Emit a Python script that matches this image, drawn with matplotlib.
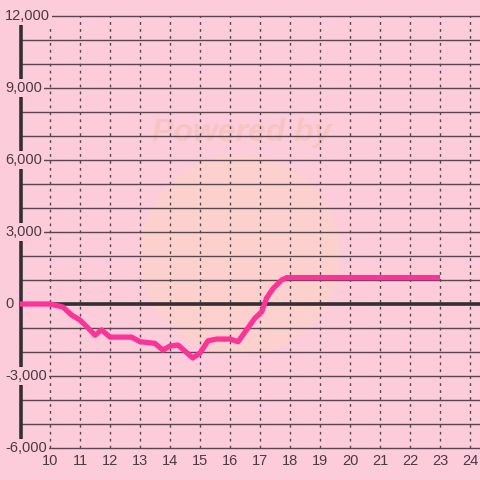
import matplotlib
matplotlib.use("Agg")
import matplotlib.pyplot as plt
from matplotlib.patches import Circle

hours = [9.0, 10.0, 10.43, 10.72, 11.0, 11.27, 11.5, 11.72, 12.0, 12.72, 13.0, 13.5, 13.76,
         14.0, 14.27, 14.76, 15.0, 15.27, 15.56, 16.0, 16.27, 16.83, 17.06, 17.22, 17.44,
         17.72, 17.89, 23.0]
values = [0, 0, -125, -460, -670, -1000, -1300, -1080, -1380, -1380, -1570, -1640, -1920,
          -1750, -1710, -2250, -2040, -1530, -1460, -1460, -1570, -590, -320, 250, 650,
          1000, 1100, 1100]
x_ticks = list(range(10, 25))
y_grid = list(range(-6000, 12001, 1000))
y_labels = [12000, 9000, 6000, 3000, 0, -3000, -6000]

BG = "#FCCCDA"
GRID = "#5A4650"
TXT = "#4A3A44"
LINE = "#FC3399"

plt.rcParams['font.family'] = ['Liberation Sans', 'DejaVu Sans']
fig = plt.figure(figsize=(4.8, 4.8), dpi=100, facecolor=BG)
ax = fig.add_axes([0, 0, 1, 1])
ax.set_facecolor(BG)
ax.set_xlim(8.3333, 24.3333)
ax.set_ylim(-7333, 12667)
ax.axis('off')

# watermark (faint, behind grid)
ax.add_patch(Circle((240/480, 1-255/480), 100/480, transform=fig.transFigure,
                    facecolor="#FDD3CA", edgecolor="none", alpha=0.8, zorder=0.5))
ax.text(242/480, 1-133/480, "Powered by", transform=fig.transFigure, ha='center',
        va='center', fontsize=23, fontweight='bold', style='italic', color="#F7C4BE",
        alpha=0.9, zorder=0.6)

ax.hlines(y_grid, 9, 24.3333, colors=GRID, linewidth=1.0, zorder=1)
ax.vlines(x_ticks, -6000, 12000, colors=GRID, linewidth=1.0, linestyles=(0, (2, 3)), zorder=1)
ax.hlines([0], 9, 24.3333, colors="#333035", linewidth=2.6, zorder=2)
ax.vlines([9.03], -6000, 12000, colors="#333035", linewidth=2.6, zorder=2)

ax.plot(hours, values, color=LINE, linewidth=3.8, solid_joinstyle='round',
        solid_capstyle='butt', zorder=4)

ytr = ax.get_yaxis_transform()
for v in y_labels:
    ax.text(5/480, v, f"{v:,}", transform=ytr, ha='left', va='center', fontsize=10.5,
            color=TXT, zorder=5,
            bbox=dict(boxstyle='square,pad=0.12', facecolor=BG, edgecolor='none'))
for h in x_ticks:
    ax.text(h, -6550, str(h), ha='center', va='center', fontsize=10.5, color=TXT, zorder=5)

fig.savefig("out.png", dpi=100, facecolor=BG)
